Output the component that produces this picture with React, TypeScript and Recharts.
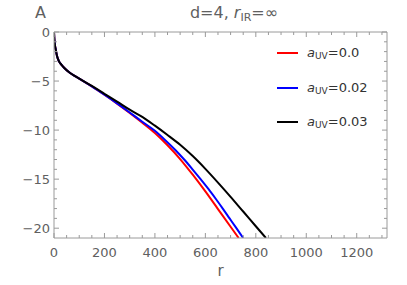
import { Legend, Line, LineChart, XAxis, YAxis } from "recharts";

// curves: r on x, value on y
const R_RED = [0, 1, 3, 7, 12, 20, 30, 40, 60, 80, 100, 150, 200, 250, 300, 350, 400, 450, 500, 550, 600, 650, 700, 732];
const Y_RED = [0, -0.6, -1.2, -1.8, -2.45, -3.0, -3.35, -3.65, -4.1, -4.45, -4.75, -5.55, -6.4, -7.3, -8.25, -9.25, -10.3, -11.55, -12.95, -14.55, -16.25, -18.05, -19.85, -21];

const R_BLUE = [0, 1, 3, 7, 12, 20, 30, 40, 60, 80, 100, 150, 200, 250, 300, 350, 396, 440, 480, 516, 549, 581, 612, 641, 669, 696, 723, 750];
const Y_BLUE = [0, -0.6, -1.2, -1.8, -2.45, -3.0, -3.35, -3.65, -4.1, -4.45, -4.75, -5.55, -6.4, -7.28, -8.2, -9.15, -10, -11, -12, -13, -14, -15, -16, -17, -18, -19, -20, -21];

const R_BLACK = [0, 1, 3, 7, 12, 20, 30, 40, 60, 80, 100, 150, 200, 250, 300, 353, 400, 450, 500, 550, 600, 650, 700, 750, 800, 840];
const Y_BLACK = [0, -0.6, -1.2, -1.8, -2.45, -3.0, -3.35, -3.65, -4.1, -4.45, -4.75, -5.5, -6.3, -7.1, -7.92, -8.7, -9.55, -10.5, -11.5, -12.65, -13.95, -15.35, -16.8, -18.3, -19.8, -21];

const A_UV = ["0.0", "0.02", "0.03"];
const COLORS = ["#ff0000", "#0000ff", "#000000"];

const X_MAJOR = [0, 200, 400, 600, 800, 1000, 1200];
const X_MINOR = [0, 50, 100, 150, 200, 250, 300, 350, 400, 450, 500, 550, 600, 650, 700, 750, 800, 850, 900, 950, 1000, 1050, 1100, 1150, 1200, 1250, 1300];
const Y_MAJOR = [0, -5, -10, -15, -20];
const Y_MINOR = [0, -1, -2, -3, -4, -5, -6, -7, -8, -9, -10, -11, -12, -13, -14, -15, -16, -17, -18, -19, -20];

const FRAME = "#9a9a9a";
const TEXT = "#606060";
const FONT = "'DejaVu Sans', sans-serif";

const toPoints = (rs: number[], ys: number[]) => rs.map((r, i) => ({ r, y: ys[i] }));
const series = [toPoints(R_RED, Y_RED), toPoints(R_BLUE, Y_BLUE), toPoints(R_BLACK, Y_BLACK)];

const fmt = (v: number) => (v < 0 ? `\u2212${Math.abs(v)}` : `${v}`);

function BottomTick({ x, y, payload }: any) {
  const major = X_MAJOR.includes(payload.value);
  return (
    <g>
      <line x1={x} x2={x} y1={y} y2={y - (major ? 5 : 3)} stroke={FRAME} />
      {major && (
        <text x={x} y={y + 19} textAnchor="middle" fill={TEXT} fontSize={13} fontFamily={FONT}>
          {payload.value}
        </text>
      )}
    </g>
  );
}

function TopTick({ x, y, payload }: any) {
  const major = X_MAJOR.includes(payload.value);
  return <line x1={x} x2={x} y1={y} y2={y + (major ? 5 : 3)} stroke={FRAME} />;
}

function LeftTick({ x, y, payload }: any) {
  const major = Y_MAJOR.includes(payload.value);
  return (
    <g>
      <line x1={x} x2={x + (major ? 5 : 3)} y1={y} y2={y} stroke={FRAME} />
      {major && (
        <text x={x - 4} y={y + 5} textAnchor="end" fill={TEXT} fontSize={13} fontFamily={FONT}>
          {fmt(payload.value)}
        </text>
      )}
    </g>
  );
}

function RightTick({ x, y, payload }: any) {
  const major = Y_MAJOR.includes(payload.value);
  return <line x1={x} x2={x - (major ? 5 : 3)} y1={y} y2={y} stroke={FRAME} />;
}

function LegendBox({ payload }: any) {
  return (
    <div style={{ fontFamily: FONT, fontSize: 13, color: "#333" }}>
      {(payload || []).map((p: any) => (
        <div key={p.value} style={{ display: "flex", alignItems: "center", height: 34.6 }}>
          <span style={{ display: "inline-block", width: 21, height: 2, background: p.color, marginRight: 9 }} />
          <span>
            <i>a</i>
            <sub style={{ fontSize: 9, verticalAlign: "-2px" }}>UV</sub>={p.value}
          </span>
        </div>
      ))}
    </div>
  );
}

export default function App() {
  return (
    <div style={{ position: "fixed", left: 0, top: 0, width: 407, height: 285, background: "#fff" }}>
      <LineChart width={407} height={285} margin={{ top: 30, right: 18, bottom: 0, left: 0 }}>
        <XAxis
          dataKey="r"
          type="number"
          domain={[0, 1320]}
          allowDataOverflow
          ticks={X_MINOR}
          interval={0}
          tickSize={0}
          tickMargin={0}
          tickLine={false}
          tick={<BottomTick />}
          axisLine={{ stroke: FRAME }}
          height={47}
          label={{ value: "r", position: "insideBottom", offset: 9, fill: TEXT, fontSize: 15, fontFamily: FONT }}
        />
        <XAxis
          xAxisId="top"
          orientation="top"
          dataKey="r"
          type="number"
          domain={[0, 1320]}
          allowDataOverflow
          ticks={X_MINOR}
          interval={0}
          tickSize={0}
          tickMargin={0}
          tickLine={false}
          tick={<TopTick />}
          axisLine={{ stroke: FRAME }}
          height={2}
        />
        <YAxis
          type="number"
          domain={[-21, 0]}
          allowDataOverflow
          ticks={Y_MINOR}
          interval={0}
          tickSize={0}
          tickMargin={0}
          tickLine={false}
          tick={<LeftTick />}
          axisLine={{ stroke: FRAME }}
          width={54}
        />
        <YAxis
          yAxisId="right"
          orientation="right"
          type="number"
          domain={[-21, 0]}
          allowDataOverflow
          ticks={Y_MINOR}
          interval={0}
          tickSize={0}
          tickMargin={0}
          tickLine={false}
          tick={<RightTick />}
          axisLine={{ stroke: FRAME }}
          width={2}
        />
        <Legend
          layout="vertical"
          align="center"
          verticalAlign="middle"
          wrapperStyle={{ left: 277, top: 36, width: 125 }}
          content={<LegendBox />}
        />
        {series.map((d, i) => (
          <Line
            key={A_UV[i]}
            data={d}
            dataKey="y"
            name={A_UV[i]}
            type="monotone"
            stroke={COLORS[i]}
            strokeWidth={2}
            dot={false}
            activeDot={false}
            isAnimationActive={false}
          />
        ))}
      </LineChart>
      <svg width={407} height={30} style={{ position: "absolute", left: 0, top: 0, pointerEvents: "none" }}>
        <text x={35} y={18} fill={TEXT} fontSize={16} fontFamily={FONT}>
          A
        </text>
        <text x={234} y={18} textAnchor="middle" fill={TEXT} fontSize={16} fontFamily={FONT}>
          d=4, <tspan fontStyle="italic">r</tspan>
          <tspan fontSize={11} dy={3}>IR</tspan>
          <tspan dy={-3}>=∞</tspan>
        </text>
      </svg>
    </div>
  );
}
